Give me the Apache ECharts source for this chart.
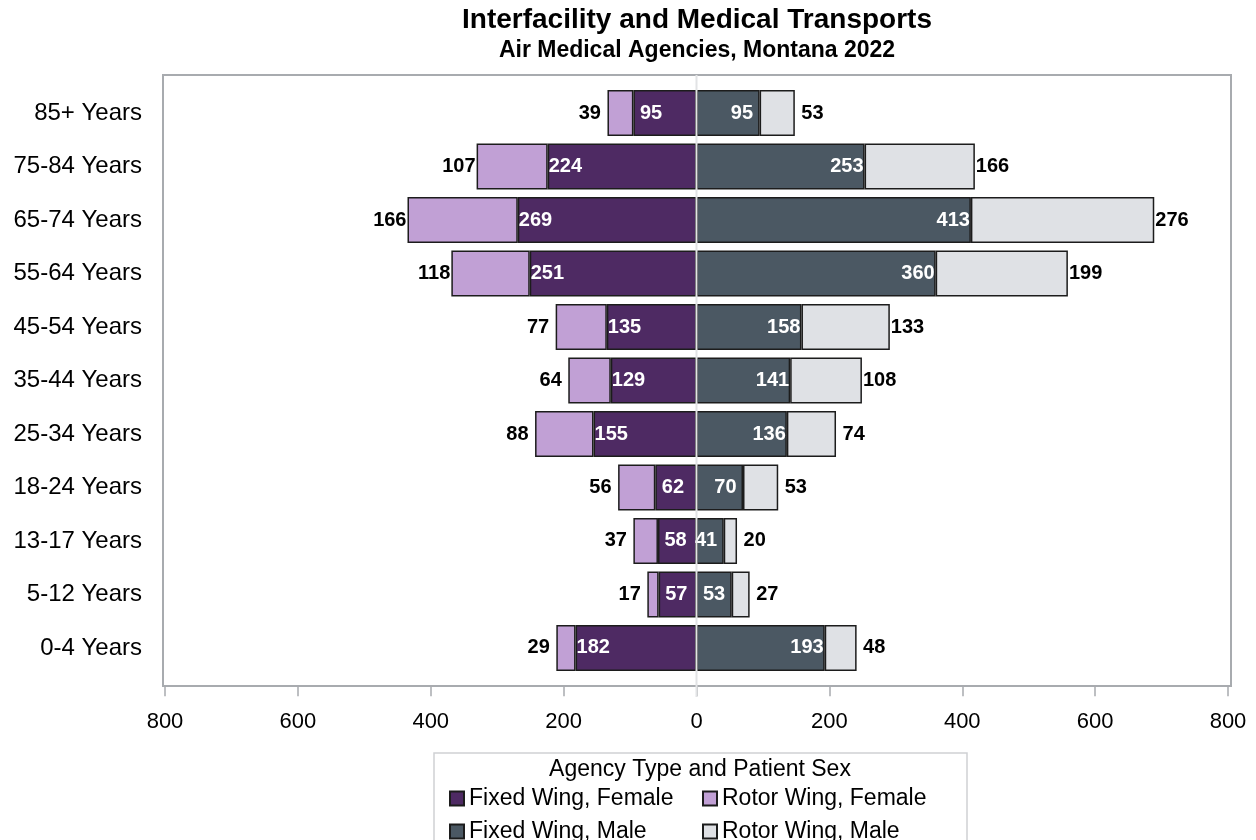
<!DOCTYPE html>
<html><head><meta charset="utf-8">
<script src="https://cdn.jsdelivr.net/npm/echarts@6/dist/echarts.min.js"></script>
<style>html,body{margin:0;padding:0;background:#fff}#c{width:1256px;height:840px}</style>
</head><body><div id="c"></div>
<script>
const categories = ['85+ Years','75-84 Years','65-74 Years','55-64 Years','45-54 Years','35-44 Years','25-34 Years','18-24 Years','13-17 Years','5-12 Years','0-4 Years'];
const fixedFemale = [95,224,269,251,135,129,155,62,58,57,182];
const rotorFemale = [39,107,166,118,77,64,88,56,37,17,29];
const fixedMale   = [95,253,413,360,158,141,136,70,41,53,193];
const rotorMale   = [53,166,276,199,133,108,74,53,20,27,48];
const seriesNames = ['Fixed Wing, Female','Rotor Wing, Female','Fixed Wing, Male','Rotor Wing, Male'];
const titleText = 'Interfacility and Medical Transports';
const subtitleText = 'Air Medical Agencies, Montana 2022';
const legendTitle = 'Agency Type and Patient Sex';

const FONT = '"Liberation Sans", Arial, sans-serif';
const colors = ['#4e2a63','#c1a0d5','#4b5863','#dfe1e5'];
const chart = echarts.init(document.getElementById('c'), null, {renderer:'canvas'});

const absFmt = p => String(Math.abs(p.value));
// labels are centred in a 3-digit-wide slot, as in the reference
const slotDist = v => 1 + (3 - String(Math.abs(v)).length) * 5.5;
function mk(name, values, sign, color, pos, labelColor) {
  return {
    name, type:'bar', stack:'all', barWidth:'86%',
    data: values.map(v => ({value: sign * v, label:{distance: slotDist(v)}})),
    itemStyle:{color, borderColor:'#1c1c1c', borderWidth:1.5},
    label:{show:true, position:pos, formatter:absFmt,
      color:labelColor, fontWeight:'bold', fontSize:20, fontFamily:FONT},
    emphasis:{disabled:true}, animation:false
  };
}

const legendCommon = {orient:'vertical', top:782, height:100, itemWidth:14, itemHeight:14, itemGap:10, itemTextGap:15,
  icon:'rect', textStyle:{fontSize:23, color:'#000', fontFamily:FONT}, selectedMode:false};

const option = {
  animation:false,
  grid:{left:165, width:1063, top:86.3, height:588.4, containLabel:false},
  xAxis:{type:'value', min:-800, max:800, interval:200, offset:11.5,
    axisLine:{show:false}, splitLine:{show:false},
    axisTick:{show:true, length:10, lineStyle:{color:'#a8abaf', width:1.5}},
    axisLabel:{formatter:v=>String(Math.abs(v)), fontSize:22, color:'#000', fontFamily:FONT, margin:25}},
  yAxis:{type:'category', data:categories, inverse:true, offset:2,
    axisLine:{show:false},
    axisTick:{show:true, alignWithLabel:true, length:10, lineStyle:{color:'#a8abaf', width:1.5}},
    axisLabel:{fontSize:24, color:'#000', fontFamily:FONT, margin:21}},
  legend:[
    Object.assign({data:[seriesNames[0], seriesNames[2]], left:444}, legendCommon),
    Object.assign({data:[seriesNames[1], seriesNames[3]], left:697}, legendCommon)
  ],
  series:[
    mk(seriesNames[0], fixedFemale, -1, colors[0], 'insideLeft', '#fff'),
    mk(seriesNames[1], rotorFemale, -1, colors[1], 'left', '#000'),
    mk(seriesNames[2], fixedMale, 1, colors[2], 'insideRight', '#fff'),
    mk(seriesNames[3], rotorMale, 1, colors[3], 'right', '#000')
  ],
  graphic:[
    {type:'rect', shape:{x:163, y:75, width:1068, height:611}, style:{fill:'none', stroke:'#a8abaf', lineWidth:2}, silent:true, z:-1},
    {type:'text', x:697, y:20, style:{text:titleText, font:'bold 28px '+FONT, fill:'#000', align:'center', verticalAlign:'middle'}},
    {type:'text', x:697, y:51, style:{text:subtitleText, font:'bold 23px '+FONT, fill:'#000', align:'center', verticalAlign:'middle'}},
    {type:'rect', shape:{x:434, y:753, width:533, height:100}, style:{fill:'none', stroke:'#cfd1d4', lineWidth:1.5}, silent:true},
    {type:'text', x:700, y:770, style:{text:legendTitle, font:'23px '+FONT, fill:'#000', align:'center', verticalAlign:'middle'}}
  ]
};
chart.setOption(option);
const x0 = chart.convertToPixel({xAxisIndex:0}, 0);
chart.setOption({graphic:option.graphic.concat([
  {type:'line', shape:{x1:x0, y1:75, x2:x0, y2:697}, style:{stroke:'#e2e3e5', lineWidth:2}, silent:true, z:100}
])});
</script></body></html>
